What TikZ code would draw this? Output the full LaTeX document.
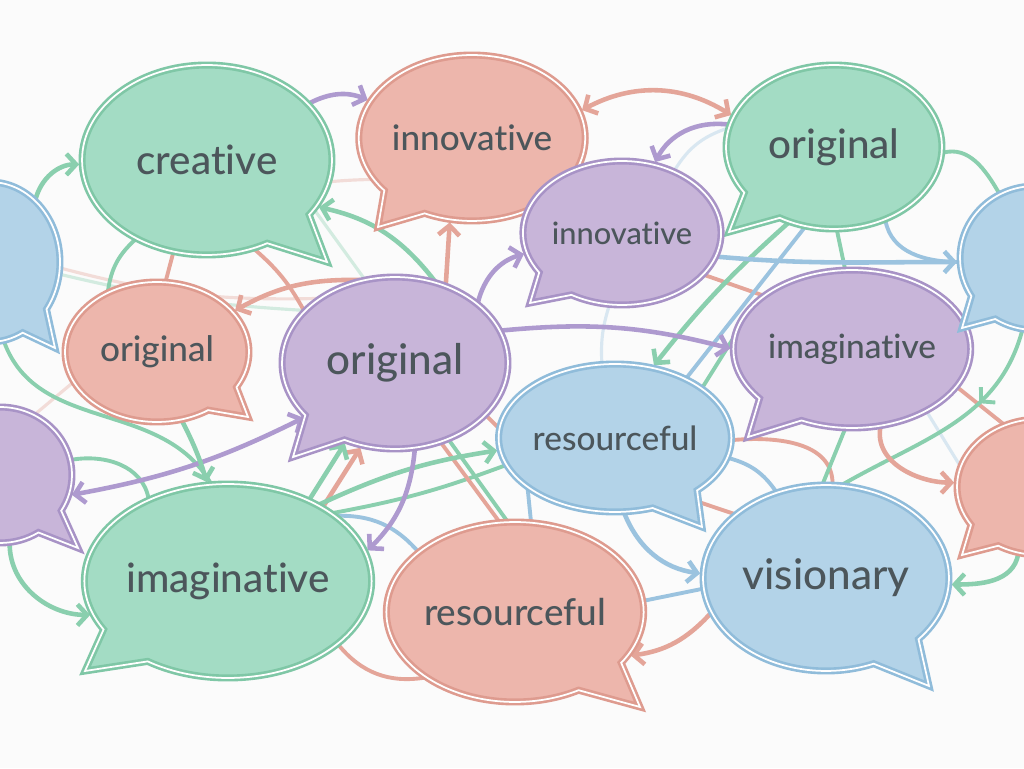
\documentclass[tikz,border=0pt]{standalone}
\usepackage{fontspec}
\setmainfont{Lato}[UprightFont={* Medium}, Ligatures=NoCommon]
\usetikzlibrary{arrows.meta, shapes.callouts, backgrounds, decorations.markings}

\definecolor{paper}{HTML}{FBFBFB}
\definecolor{txt}{HTML}{4C565B}
\definecolor{grnF}{HTML}{A3DCC4}
\definecolor{grnD}{HTML}{7FC7A6}
\definecolor{grnL}{HTML}{8ACFAE}
\definecolor{redF}{HTML}{EDB6AC}
\definecolor{redD}{HTML}{DE9B8F}
\definecolor{redL}{HTML}{E4A599}
\definecolor{purF}{HTML}{C8B5D9}
\definecolor{purD}{HTML}{A893C6}
\definecolor{purL}{HTML}{AE9ACF}
\definecolor{bluF}{HTML}{B3D3E8}
\definecolor{bluD}{HTML}{90BCDA}
\definecolor{bluL}{HTML}{9BC3DF}

\tikzset{
    bubble/.style={ellipse callout, double=white, double distance=1pt, line width=1.5pt,
        inner sep=0pt, callout pointer arc=26, text=txt},
    rad/.style 2 args={minimum width=#1*0.04cm, minimum height=#2*0.04cm},
    ptr/.style={callout absolute pointer={#1}},
    gbub/.style={fill=grnF, draw=grnD},
    rbub/.style={fill=redF, draw=redD},
    pbub/.style={fill=purF, draw=purD},
    bbub/.style={fill=bluF, draw=bluD},
    fs/.style={font=\fontsize{#1}{#1}\selectfont}
}
\tikzset{
    lnk/.style={line width=2.6pt, -{Straight Barb[length=5.5pt,width=12pt]}, shorten >=1pt},
    lnk2/.style={line width=2.6pt, {Straight Barb[length=5.5pt,width=12pt]}-{Straight Barb[length=5.5pt,width=12pt]},
        shorten >=1pt, shorten <=1pt},
    wire/.style={line width=2.2pt},
    faint/.style={line width=1.8pt, opacity=0.35},
    midhead/.style={postaction={decorate}, decoration={markings,
        mark=at position #1 with {\arrow{Straight Barb[length=5.5pt,width=12pt]}}}},
    midhead/.default=0.35
}

\begin{document}
\begin{tikzpicture}[x=0.02cm, y=0.02cm]
    \useasboundingbox (0,0) rectangle (1024,768);
    \clip (0,0) rectangle (1024,768);

    % speech bubbles
    \node[bubble, gbub, rad={125}{95}, ptr={(327,506)}, fs=23] (creative) at (207,608) {creative};
    \node[bubble, rbub, rad={110}{83}, ptr={(378,541)}, fs=20] (innovT) at (472,630) {innovative};
    \node[bubble, gbub, rad={108}{82}, ptr={(729,536)}, fs=23] (origTR) at (834,621) {original};
    \node[bubble, pbub, rad={97}{72}, ptr={(530,465)}, fs=17.5] (innovM) at (622,535) {innovative};
    \node[bubble, rbub, rad={92}{70}, ptr={(248,351)}, fs=20] (origL) at (157,416) {original};
    \node[bubble, pbub, rad={113}{86}, ptr={(293,311)}, fs=24] (origC) at (395,405) {original};
    \node[bubble, pbub, rad={107}{79}, ptr={(748,331)}, fs=19] (imagR) at (852,419) {imaginative};
    \node[bubble, bbub, rad={100}{74}, ptr={(702,241)}, fs=19] (resB) at (615,330) {resourceful};
    \node[bubble, gbub, rad={131}{97}, ptr={(85,97)}, fs=23] (imagG) at (228,187) {imaginative};
    \node[bubble, rbub, rad={125}{90}, ptr={(640,61)}, fs=21] (resR) at (515,156) {resourceful};
    \node[bubble, bbub, rad={123}{93}, ptr={(929,82)}, fs=24] (vision) at (826,190) {visionary};
    % bubbles cut by the edges
    \node[bubble, bbub, rad={70}{80}, ptr={(55,420)}] (blueL) at (-10,506) {};
    \node[bubble, bbub, rad={75}{72}, ptr={(962,440)}] (blueR) at (1035,510) {};
    \node[bubble, pbub, rad={72}{68}, ptr={(78,220)}] (purpL) at (0,293) {};
    \node[bubble, rbub, rad={83}{68}, ptr={(962,213)}] (redR) at (1040,281) {};

    \begin{scope}[on background layer]
    \fill[paper] (0,0) rectangle (1024,768);
    % faint strands
    \draw[faint, bluL] (imagR.-40) -- (redR.165);
    \draw[faint, grnL] (creative.-25) -- (origC.110);
    \draw[faint, bluL] (innovM.50) to[bend left=20] (origTR.170);
    \draw[faint, redL] (origL.200) -- (purpL.60);
    \draw[faint, grnL] (blueL.-10) to[bend right=5] (origC.150);
    \draw[faint, redL] (blueL.-5) to[bend right=8] (origC.140);
    \draw[faint, redL] (creative.-10) to[bend left=15] (innovM.170);
    \draw[faint, bluL] (innovM.-100) to[bend right=10] (resB.100);
    % plain strands
    \draw[wire, grnL] (imagG.33) to[bend right=5] (resB.194);
    \draw[wire, bluL] (imagG.31) to[bend left=25] (resR.148);
    \draw[wire, redL] (imagG.-30) to[bend right=30] (resR.216);
    \draw[wire, redL] (creative.250) -- (origL.83);
    \draw[wire, grnL] (creative.228) to[bend right=20] (origL.129);
    \draw[wire, redL] (creative.-62) to[bend left=10] (origC.150);
    \draw[wire, redL] (innovM.-27) -- (imagR.149);
    \draw[wire, bluL] (origTR.250) -- (resB.40);
    \draw[wire, grnL] (imagR.175) -- (resB.30);
    \draw[wire, redL] (resB.-1) to[out=5,in=90] (vision.86);
    \draw[wire, grnL] (imagR.-95) -- (vision.92);
    \draw[wire, grnL] (origTR.-88) -- (imagR.95);
    \draw[wire, redL] (imagR.-20) -- (redR.120);
    \draw[wire, bluL] (resB.-10) to[bend left=20] (vision.120);
    \draw[wire, redL] (resB.-40) -- (vision.145);
    \draw[wire, bluL] (resB.-150) -- (resR.80);
    \draw[wire, redL] (origC.-60) -- (resR.100);
    \draw[wire, grnL] (origC.-55) -- (resR.95);
    \draw[wire, redL] (origC.-30) -- (resB.175);
    \draw[wire, bluL] (resR.5) -- (vision.185);
    \draw[wire, grnL] (blueL.-80) to[out=-70,in=120] (imagG.100);
    \draw[wire, bluL] (origTR.-55) to[out=-80,in=180] (blueR.183);
    \draw[wire, grnL] (origTR.-3) to[out=15,in=120] (blueR.119);
    \draw[wire, grnL] (purpL.12) to[out=10,in=100] (imagG.134);
    \draw[wire, grnL, midhead] (blueR.-100) to[out=-105,in=30] (vision.80);
    % arrows
    \draw[lnk, purL] (creative.29) to[bend left=25] (innovT.160);
    \draw[lnk, grnL] (blueL.54) to[out=75,in=180] (creative.182);
    \draw[lnk, grnL] (origC.64) to[bend right=20] (creative.-23);
    \draw[lnk, redL] (origC.57) -- (innovT.-105);
    \draw[lnk, redL] (origC.113) to[bend right=15] (origL.28);
    \draw[lnk, purL] (origC.36) to[bend left=30] (innovM.192);
    \draw[lnk2, redL] (innovT.14) to[bend left=30] (origTR.163);
    \draw[lnk, purL] (origTR.168) to[bend right=35] (innovM.65);
    \draw[lnk, grnL] (origTR.239) to[bend right=5] (resB.62);
    \draw[lnk, bluL] (innovM.-14) to[out=-5,in=180] (blueR.183);
    \draw[lnk, purL] (origC.17) to[bend left=10] (imagR.180);
    \draw[lnk, redL] (imagR.-70) to[out=-100,in=180] (redR.177);
    \draw[lnk, grnL] (redR.-108) to[out=-100,in=0] (vision.-3);
    \draw[lnk, redL] (vision.197) to[bend left=20] (resR.-21);
    \draw[lnk, bluL] (resB.-83) to[bend right=30] (vision.178);
    \draw[lnk2, purL] (purpL.-16) to[bend right=8] (origC.211);
    \draw[lnk, grnL] (origL.-70) to[bend left=5] (imagG.102);
    \draw[lnk, grnL] (purpL.-82) to[out=-90,in=180] (imagG.194);
    \draw[lnk, redL] (imagG.38) -- (origC.248);
    \draw[lnk, grnL] (imagG.45) -- (origC.238);
    \draw[lnk, grnL] (imagG.40) to[bend left=8] (resB.186);
    \draw[lnk, purL] (origC.-77) to[bend left=20] (imagG.12);
    \end{scope}
\end{tikzpicture}
\end{document}
